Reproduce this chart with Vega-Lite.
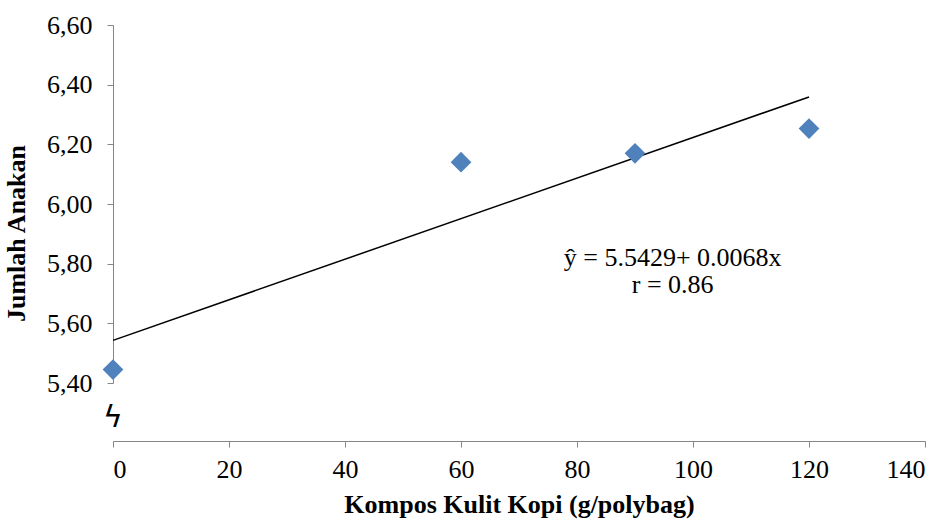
{
  "$schema": "https://vega.github.io/schema/vega-lite/v6.json",
  "width": 812,
  "height": 358,
  "autosize": "none",
  "padding": {"left": 113, "top": 25, "right": 24, "bottom": 141},
  "background": "white",
  "config": {
    "view": {"stroke": null},
    "font": "Liberation Serif"
  },
  "datasets": {
    "obs": [
      {"kompos": 0, "anakan": 5.445},
      {"kompos": 60, "anakan": 6.14},
      {"kompos": 90, "anakan": 6.17},
      {"kompos": 120, "anakan": 6.253}
    ],
    "trend": [
      {"kompos": 0, "anakan": 5.5429},
      {"kompos": 120, "anakan": 6.3589}
    ],
    "note": [
      {"eq": "ŷ = 5.5429+ 0.0068x", "r": "r = 0.86", "brk": "ϟ"}
    ]
  },
  "layer": [
    {
      "data": {"name": "trend"},
      "mark": {"type": "line", "color": "black", "strokeWidth": 1.5, "clip": false},
      "encoding": {
        "x": {
          "field": "kompos", "type": "quantitative",
          "scale": {"domain": [0, 140], "nice": false, "zero": false},
          "axis": {
            "values": [0, 20, 40, 60, 80, 100, 120, 140],
            "title": "Kompos Kulit Kopi (g/polybag)",
            "offset": 58,
            "grid": false,
            "domainColor": "#868686",
            "tickColor": "#868686",
            "tickSize": 6,
            "labelFont": "Liberation Serif",
            "labelFontSize": 26,
            "labelColor": "black",
            "labelPadding": 9,
            "titleFont": "Liberation Serif",
            "titleFontSize": 26,
            "titleFontWeight": "bold",
            "titleColor": "black",
            "titlePadding": 9
          }
        },
        "y": {
          "field": "anakan", "type": "quantitative",
          "scale": {"domain": [5.4, 6.6], "nice": false, "zero": false},
          "axis": {
            "values": [5.4, 5.6, 5.8, 6.0, 6.2, 6.4, 6.6],
            "labelExpr": "replace(format(datum.value, '.2f'), '.', ',')",
            "title": "Jumlah Anakan",
            "grid": false,
            "domainColor": "#868686",
            "tickColor": "#868686",
            "tickSize": 6,
            "labelFont": "Liberation Serif",
            "labelFontSize": 26,
            "labelColor": "black",
            "labelPadding": 15,
            "titleFont": "Liberation Serif",
            "titleFontSize": 26,
            "titleFontWeight": "bold",
            "titleColor": "black",
            "titleX": -84,
            "titleY": 208
          }
        }
      }
    },
    {
      "data": {"name": "obs"},
      "mark": {"type": "point", "shape": "diamond", "filled": true, "color": "#4F81BD", "size": 430, "opacity": 1, "clip": false},
      "encoding": {
        "x": {"field": "kompos", "type": "quantitative"},
        "y": {"field": "anakan", "type": "quantitative"}
      }
    },
    {
      "data": {"name": "note"},
      "mark": {"type": "text", "font": "Liberation Serif", "fontSize": 26, "color": "black", "align": "center", "baseline": "middle"},
      "encoding": {
        "x": {"datum": 96.5},
        "y": {"datum": 5.82},
        "text": {"field": "eq"}
      }
    },
    {
      "data": {"name": "note"},
      "mark": {"type": "text", "font": "Liberation Serif", "fontSize": 26, "color": "black", "align": "center", "baseline": "middle"},
      "encoding": {
        "x": {"datum": 96.5},
        "y": {"datum": 5.728},
        "text": {"field": "r"}
      }
    },
    {
      "data": {"name": "note"},
      "mark": {"type": "text", "font": "DejaVu Sans", "fontSize": 30, "fontWeight": "normal", "color": "black", "align": "center", "baseline": "middle", "clip": false},
      "encoding": {
        "x": {"datum": 0},
        "y": {"datum": 5.283},
        "text": {"field": "brk"}
      }
    }
  ]
}
